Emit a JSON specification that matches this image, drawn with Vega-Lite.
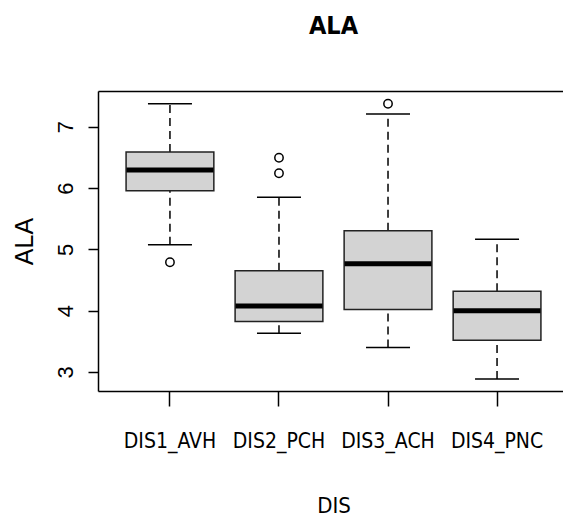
{
  "$schema": "https://vega.github.io/schema/vega-lite/v6.json",
  "width": 465,
  "height": 300,
  "autosize": {"type": "none"},
  "padding": {"left": 98, "top": 91, "right": 0, "bottom": 132},
  "background": "white",
  "title": {
    "text": "ALA",
    "font": "DejaVu Sans Condensed, Liberation Sans Narrow, sans-serif",
    "fontSize": 25,
    "fontWeight": "bold",
    "anchor": "middle",
    "baseline": "alphabetic",
    "offset": 32,
    "dx": 3,
    "color": "black"
  },
  "resolve": {"axis": {"x": "independent"}},
  "config": {
    "view": {"stroke": null},
    "axis": {"grid": false, "domain": true, "domainColor": "black", "domainWidth": 1.5, "tickColor": "black", "tickWidth": 1.5, "labelColor": "black", "titleColor": "black", "titleFontWeight": "normal"},
    "axisX": {
      "tickSize": 15,
      "labelAngle": 0,
      "labelFont": "DejaVu Sans Condensed, Liberation Sans Narrow, sans-serif",
      "labelFontSize": 21,
      "labelPadding": 24,
      "labelBaseline": "top",
      "titleFont": "DejaVu Sans Condensed, Liberation Sans Narrow, sans-serif",
      "titleFontSize": 22,
      "titlePadding": 44
    },
    "axisY": {
      "tickSize": 10,
      "labelAngle": -90,
      "labelAlign": "center",
      "labelBaseline": "alphabetic",
      "labelFont": "Liberation Sans, Arial, sans-serif",
      "labelFontSize": 22,
      "labelPadding": 16,
      "titleFont": "Liberation Sans, Arial, sans-serif",
      "titleFontSize": 25,
      "titleBaseline": "alphabetic",
      "titlePadding": 22
    }
  },
  "datasets": {
    "boxes": [
      {"DIS": "DIS1_AVH", "lower": 5.075, "q1": 5.956, "median": 6.294, "q3": 6.587, "upper": 7.375},
      {"DIS": "DIS2_PCH", "lower": 3.63, "q1": 3.825, "median": 4.075, "q3": 4.651, "upper": 5.848},
      {"DIS": "DIS3_ACH", "lower": 3.40, "q1": 4.021, "median": 4.765, "q3": 5.303, "upper": 7.207},
      {"DIS": "DIS4_PNC", "lower": 2.884, "q1": 3.516, "median": 4.0, "q3": 4.315, "upper": 5.163}
    ],
    "outliers": [
      {"DIS": "DIS1_AVH", "ALA": 4.79},
      {"DIS": "DIS2_PCH", "ALA": 6.24},
      {"DIS": "DIS2_PCH", "ALA": 6.494},
      {"DIS": "DIS3_ACH", "ALA": 7.375}
    ]
  },
  "encoding": {
    "x": {
      "field": "DIS",
      "type": "nominal",
      "title": "DIS",
      "axis": null,
      "scale": {
        "domain": ["DIS1_AVH", "DIS2_PCH", "DIS3_ACH", "DIS4_PNC"],
        "range": [0, 471],
        "paddingInner": 0.195,
        "paddingOuter": 0.2575
      }
    }
  },
  "layer": [
    {
      "data": {"name": "boxes"},
      "mark": {"type": "rule", "color": "black", "strokeWidth": 1.5, "strokeDash": [8, 5]},
      "encoding": {
        "x": {"field": "DIS", "type": "nominal", "title": "DIS", "axis": {"orient": "bottom"}},
        "y": {"field": "lower", "type": "quantitative", "title": "ALA", "scale": {"domain": [2.69, 7.582], "nice": false, "zero": false}, "axis": {"values": [3, 4, 5, 6, 7]}},
        "y2": {"field": "q1"}
      }
    },
    {
      "data": {"name": "boxes"},
      "mark": {"type": "rule", "color": "black", "strokeWidth": 1.5, "strokeDash": [8, 5]},
      "encoding": {
        "y": {"field": "q3", "type": "quantitative", "title": "ALA", "axis": {"values": [3, 4, 5, 6, 7]}},
        "y2": {"field": "upper"}
      }
    },
    {
      "data": {"name": "boxes"},
      "mark": {"type": "tick", "orient": "horizontal", "color": "black", "size": 44, "thickness": 1.5, "opacity": 1},
      "encoding": {"y": {"field": "lower", "type": "quantitative", "title": "ALA", "axis": {"values": [3, 4, 5, 6, 7]}}}
    },
    {
      "data": {"name": "boxes"},
      "mark": {"type": "tick", "orient": "horizontal", "color": "black", "size": 44, "thickness": 1.5, "opacity": 1},
      "encoding": {"y": {"field": "upper", "type": "quantitative", "title": "ALA", "axis": {"values": [3, 4, 5, 6, 7]}}}
    },
    {
      "data": {"name": "boxes"},
      "mark": {"type": "bar", "fill": "#d3d3d3", "stroke": "#222222", "strokeWidth": 1.5},
      "encoding": {
        "y": {"field": "q1", "type": "quantitative", "title": "ALA", "axis": {"values": [3, 4, 5, 6, 7]}},
        "y2": {"field": "q3"}
      }
    },
    {
      "data": {"name": "boxes"},
      "mark": {"type": "tick", "orient": "horizontal", "color": "black", "size": 87, "thickness": 5, "opacity": 1},
      "encoding": {"y": {"field": "median", "type": "quantitative", "title": "ALA", "axis": {"values": [3, 4, 5, 6, 7]}}}
    },
    {
      "data": {"name": "outliers"},
      "mark": {"type": "point", "shape": "circle", "filled": false, "stroke": "black", "strokeWidth": 1.5, "size": 70, "opacity": 1},
      "encoding": {
        "x": {"field": "DIS", "type": "nominal", "title": null, "axis": {"orient": "top", "labels": false, "ticks": false, "title": null}},
        "y": {"field": "ALA", "type": "quantitative", "title": "ALA", "axis": {"values": [3, 4, 5, 6, 7]}}
      }
    }
  ]
}
